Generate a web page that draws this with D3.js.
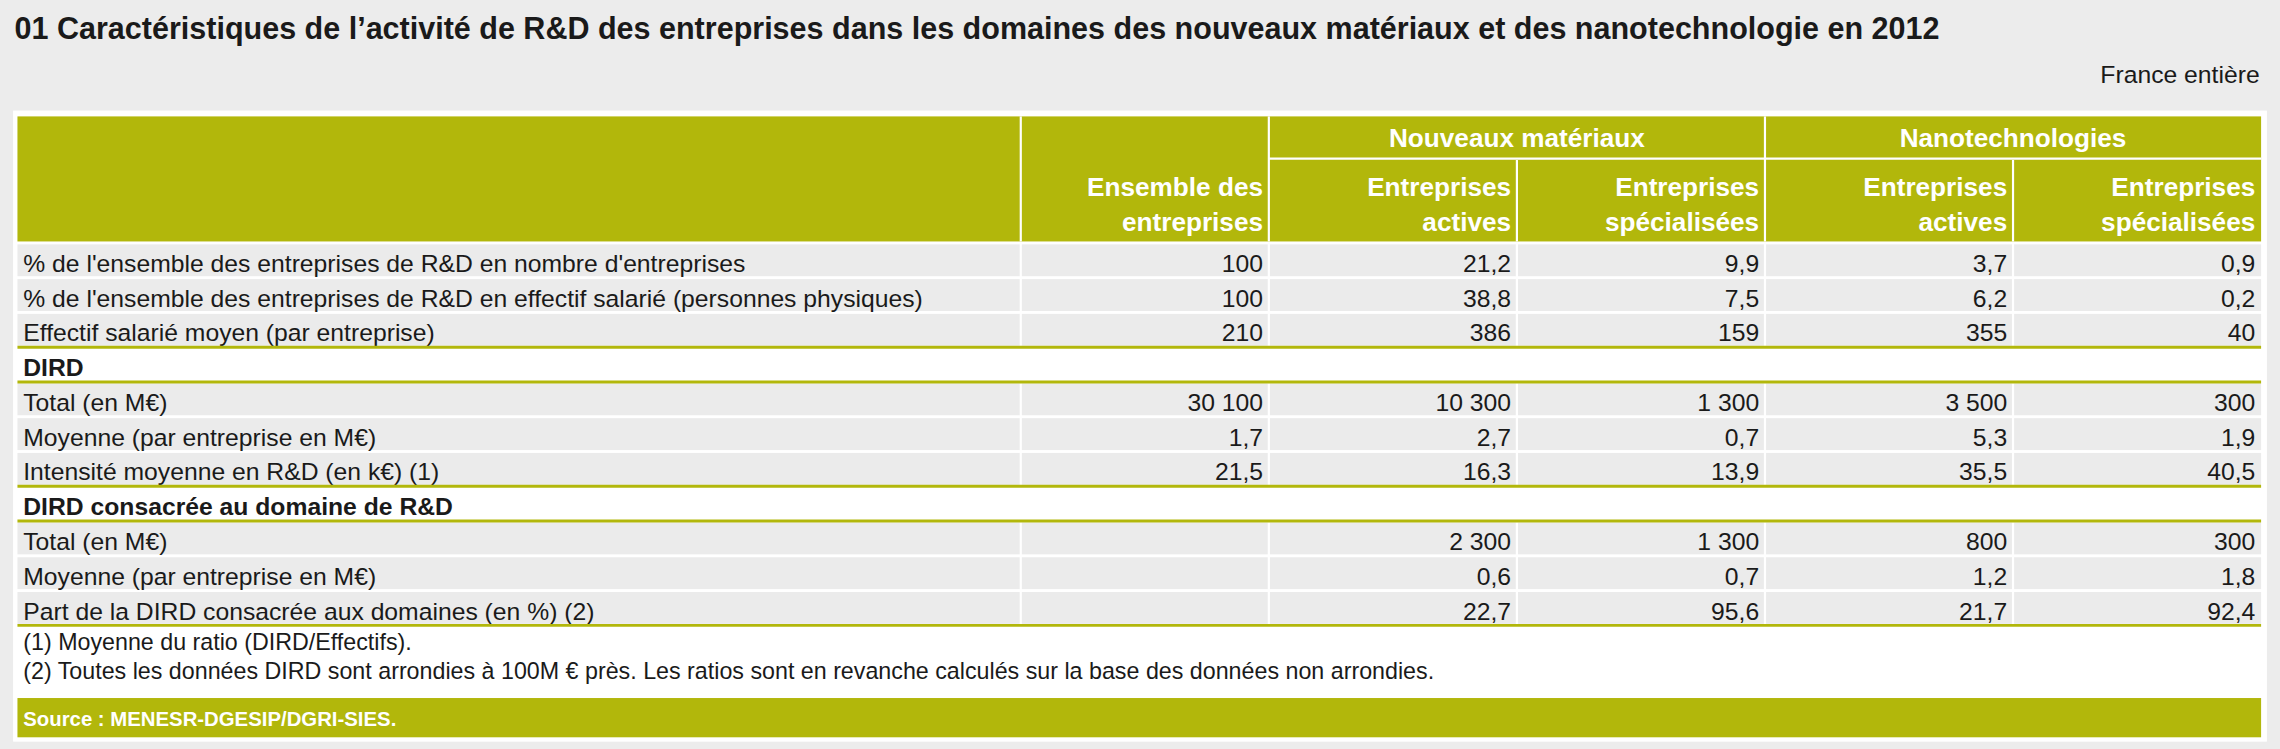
<!DOCTYPE html>
<html><head><meta charset="utf-8">
<script src="https://cdn.jsdelivr.net/npm/d3@7"></script>
<style>
body{margin:0;background:#ececec;}
text{font-family:"Liberation Sans Narrow","Arial Narrow","Liberation Sans",sans-serif;}
</style></head>
<body><svg id="chart"></svg>
<script>
// Data
const title = "01   Caractéristiques de l’activité de R&D des entreprises dans les domaines des nouveaux matériaux et des nanotechnologie en 2012";
const groups = ["Nouveaux matériaux", "Nanotechnologies"];
const columns = [["Ensemble des", "entreprises"], ["Entreprises", "actives"], ["Entreprises", "spécialisées"], ["Entreprises", "actives"], ["Entreprises", "spécialisées"]];
const rowLabels = [
  "% de l'ensemble des entreprises de R&D en nombre d'entreprises",
  "% de l'ensemble des entreprises de R&D en effectif salarié (personnes physiques)",
  "Effectif salarié moyen (par entreprise)",
  "DIRD",
  "Total (en M€)",
  "Moyenne (par entreprise en M€)",
  "Intensité moyenne en R&D (en k€) (1)",
  "DIRD consacrée au domaine de R&D",
  "Total (en M€)",
  "Moyenne (par entreprise en M€)",
  "Part de la DIRD consacrée aux domaines (en %) (2)"
];
const sectionRows = [3, 7];
const values = [
  ["100", "21,2", "9,9", "3,7", "0,9"],
  ["100", "38,8", "7,5", "6,2", "0,2"],
  ["210", "386", "159", "355", "40"],
  null,
  ["30 100", "10 300", "1 300", "3 500", "300"],
  ["1,7", "2,7", "0,7", "5,3", "1,9"],
  ["21,5", "16,3", "13,9", "35,5", "40,5"],
  null,
  ["", "2 300", "1 300", "800", "300"],
  ["", "0,6", "0,7", "1,2", "1,8"],
  ["", "22,7", "95,6", "21,7", "92,4"]
];
const notes = ["(1) Moyenne du ratio (DIRD/Effectifs).", "(2) Toutes les données DIRD sont arrondies à 100M € près. Les ratios sont en revanche calculés sur la base des données non arrondies."];
const source = "Source : MENESR-DGESIP/DGRI-SIES.";

const W = 1568, H = 515;
const green = "#b2b70b", grey = "#ebebeb", dark = "#1a1a1a";
const svg = d3.select("#chart").attr("width", 2280).attr("height", 749).attr("viewBox", `0 0 ${W} ${H}`);

svg.append("text").attr("x", 10).attr("y", 27).attr("font-size", 21).attr("font-weight", "bold").attr("fill", dark).text(title);
svg.append("text").attr("x", 1554).attr("y", 57).attr("font-size", 17).attr("text-anchor", "end").attr("fill", dark).text("France entière");

svg.append("rect").attr("x", 9).attr("y", 76).attr("width", 1550).attr("height", 434).attr("fill", "#fff");

const left = 12, right = 1555;
const colEdges = [702, 872, 1043, 1213, 1384, 1555];
const x = d3.scaleBand().domain(d3.range(5)).range([702, 1555]);
const y = d3.scaleBand().domain(d3.range(rowLabels.length)).range([167, 430]);

// header
svg.append("rect").attr("x", left).attr("y", 80).attr("width", right - left).attr("height", 86).attr("fill", green);
[0, 1, 2, 3, 4].forEach(i => {
  const x0 = x(i);
  const top = (i === 0) ? 80 : 110;
  svg.append("line").attr("x1", x0).attr("x2", x0).attr("y1", (i === 0 || i === 1 || i === 3) ? 80 : 110).attr("y2", 166).attr("stroke", "#fff").attr("stroke-width", 1.5);
});
svg.append("line").attr("x1", x(1)).attr("x2", right).attr("y1", 109).attr("y2", 109).attr("stroke", "#fff").attr("stroke-width", 1.5);
groups.forEach((g, i) => {
  svg.append("text").attr("x", x(1 + 2 * i) + x.bandwidth()).attr("y", 101).attr("text-anchor", "middle")
    .attr("font-size", 18).attr("font-weight", "bold").attr("fill", "#fff").text(g);
});
columns.forEach((c, i) => {
  c.forEach((t, k) => svg.append("text").attr("x", x(i) + x.bandwidth() - 4).attr("y", 135 + k * 24)
    .attr("text-anchor", "end").attr("font-size", 18).attr("font-weight", "bold").attr("fill", "#fff").text(t));
});

// rows
rowLabels.forEach((lab, r) => {
  const y0 = y(r), h = y.bandwidth();
  const sec = sectionRows.includes(r);
  if (!sec) {
    svg.append("rect").attr("x", left).attr("y", y0 + 1).attr("width", right - left).attr("height", h - 2).attr("fill", grey);
    x.domain().forEach(i => svg.append("line").attr("x1", x(i)).attr("x2", x(i)).attr("y1", y0).attr("y2", y0 + h).attr("stroke", "#fff").attr("stroke-width", 1.5));
    values[r].forEach((v, i) => svg.append("text").attr("x", x(i) + x.bandwidth() - 4).attr("y", y0 + h - 4)
      .attr("text-anchor", "end").attr("font-size", 17).attr("fill", dark).text(v));
  }
  svg.append("text").attr("x", left + 4).attr("y", y0 + h - 4).attr("font-size", 17)
    .attr("font-weight", sec ? "bold" : "normal").attr("fill", dark).text(lab);
});
[3, 4, 7, 8, 11].forEach(r => {
  const yy = r < rowLabels.length ? y(r) : y(r - 1) + y.bandwidth();
  svg.append("line").attr("x1", left).attr("x2", right).attr("y1", yy).attr("y2", yy).attr("stroke", green).attr("stroke-width", 2);
});

notes.forEach((n, i) => svg.append("text").attr("x", left + 4).attr("y", 447 + i * 20).attr("font-size", 16).attr("fill", dark).text(n));
svg.append("rect").attr("x", left).attr("y", 480).attr("width", right - left).attr("height", 27).attr("fill", green);
svg.append("text").attr("x", left + 4).attr("y", 499).attr("font-size", 14).attr("font-weight", "bold").attr("fill", "#fff").text(source);
</script></body></html>
